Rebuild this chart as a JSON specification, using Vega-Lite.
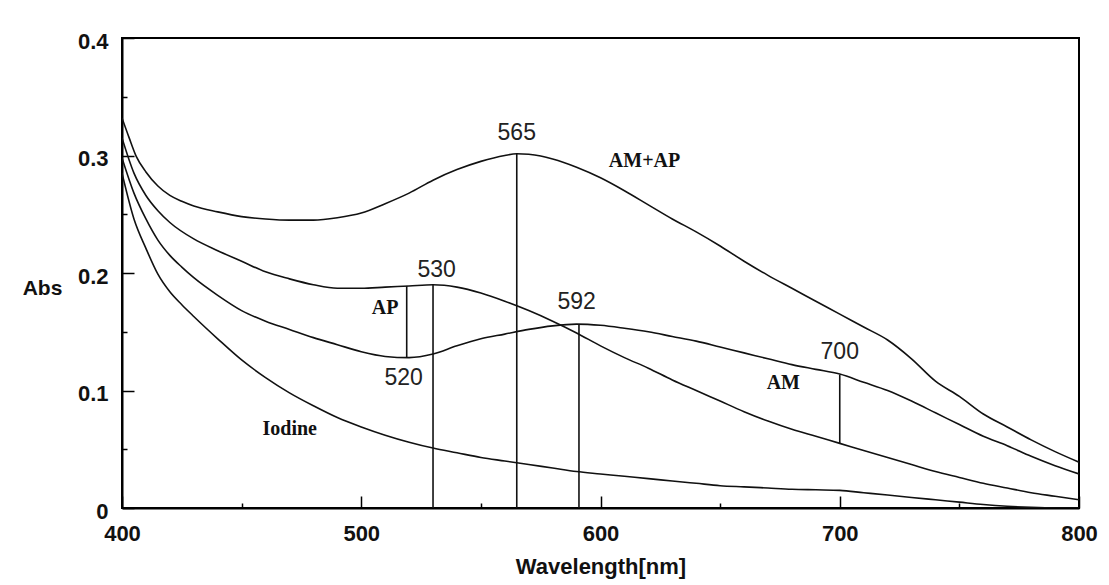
{
  "$schema": "https://vega.github.io/schema/vega-lite/v6.json",
  "width": 957,
  "height": 470,
  "autosize": "none",
  "padding": {"left": 122, "top": 38, "right": 30, "bottom": 77},
  "background": "white",
  "config": {
    "view": {"stroke": "black", "strokeWidth": 2},
    "axis": {"domainColor": "black", "domainWidth": 2, "tickColor": "black", "tickWidth": 1.5, "labelColor": "#111", "titleColor": "#111", "grid": false}
  },
  "datasets": {
    "curves": [
      {"s":"AM+AP","w":400,"a":0.332},{"s":"AM+AP","w":403,"a":0.315},{"s":"AM+AP","w":406,"a":0.299},{"s":"AM+AP","w":410,"a":0.286},{"s":"AM+AP","w":415,"a":0.274},{"s":"AM+AP","w":420,"a":0.266},{"s":"AM+AP","w":425,"a":0.261},{"s":"AM+AP","w":430,"a":0.257},{"s":"AM+AP","w":440,"a":0.252},{"s":"AM+AP","w":450,"a":0.248},{"s":"AM+AP","w":460,"a":0.246},{"s":"AM+AP","w":470,"a":0.245},{"s":"AM+AP","w":480,"a":0.245},{"s":"AM+AP","w":490,"a":0.247},{"s":"AM+AP","w":500,"a":0.251},{"s":"AM+AP","w":510,"a":0.259},{"s":"AM+AP","w":520,"a":0.268},{"s":"AM+AP","w":530,"a":0.279},{"s":"AM+AP","w":540,"a":0.288},{"s":"AM+AP","w":550,"a":0.295},{"s":"AM+AP","w":560,"a":0.300},{"s":"AM+AP","w":565,"a":0.3015},{"s":"AM+AP","w":570,"a":0.301},{"s":"AM+AP","w":575,"a":0.2995},{"s":"AM+AP","w":580,"a":0.297},{"s":"AM+AP","w":590,"a":0.290},{"s":"AM+AP","w":600,"a":0.281},{"s":"AM+AP","w":610,"a":0.270},{"s":"AM+AP","w":620,"a":0.258},{"s":"AM+AP","w":630,"a":0.246},{"s":"AM+AP","w":640,"a":0.235},{"s":"AM+AP","w":650,"a":0.223},{"s":"AM+AP","w":660,"a":0.210},{"s":"AM+AP","w":670,"a":0.198},{"s":"AM+AP","w":680,"a":0.187},{"s":"AM+AP","w":690,"a":0.176},{"s":"AM+AP","w":700,"a":0.165},{"s":"AM+AP","w":710,"a":0.154},{"s":"AM+AP","w":720,"a":0.143},{"s":"AM+AP","w":730,"a":0.127},{"s":"AM+AP","w":740,"a":0.108},{"s":"AM+AP","w":750,"a":0.095},{"s":"AM+AP","w":760,"a":0.080},{"s":"AM+AP","w":770,"a":0.069},{"s":"AM+AP","w":780,"a":0.058},{"s":"AM+AP","w":790,"a":0.048},{"s":"AM+AP","w":800,"a":0.039},
      {"s":"AP","w":400,"a":0.315},{"s":"AP","w":405,"a":0.285},{"s":"AP","w":410,"a":0.266},{"s":"AP","w":415,"a":0.253},{"s":"AP","w":420,"a":0.243},{"s":"AP","w":430,"a":0.229},{"s":"AP","w":440,"a":0.219},{"s":"AP","w":450,"a":0.210},{"s":"AP","w":460,"a":0.201},{"s":"AP","w":470,"a":0.195},{"s":"AP","w":480,"a":0.190},{"s":"AP","w":490,"a":0.187},{"s":"AP","w":500,"a":0.187},{"s":"AP","w":510,"a":0.188},{"s":"AP","w":520,"a":0.189},{"s":"AP","w":530,"a":0.190},{"s":"AP","w":540,"a":0.188},{"s":"AP","w":550,"a":0.183},{"s":"AP","w":560,"a":0.176},{"s":"AP","w":570,"a":0.168},{"s":"AP","w":580,"a":0.159},{"s":"AP","w":590,"a":0.149},{"s":"AP","w":600,"a":0.138},{"s":"AP","w":610,"a":0.128},{"s":"AP","w":620,"a":0.119},{"s":"AP","w":630,"a":0.109},{"s":"AP","w":640,"a":0.100},{"s":"AP","w":650,"a":0.091},{"s":"AP","w":660,"a":0.082},{"s":"AP","w":670,"a":0.074},{"s":"AP","w":680,"a":0.067},{"s":"AP","w":690,"a":0.061},{"s":"AP","w":700,"a":0.055},{"s":"AP","w":710,"a":0.049},{"s":"AP","w":720,"a":0.043},{"s":"AP","w":730,"a":0.037},{"s":"AP","w":740,"a":0.031},{"s":"AP","w":750,"a":0.026},{"s":"AP","w":760,"a":0.021},{"s":"AP","w":770,"a":0.017},{"s":"AP","w":780,"a":0.013},{"s":"AP","w":790,"a":0.010},{"s":"AP","w":800,"a":0.007},
      {"s":"AM","w":400,"a":0.298},{"s":"AM","w":405,"a":0.268},{"s":"AM","w":410,"a":0.246},{"s":"AM","w":415,"a":0.228},{"s":"AM","w":420,"a":0.215},{"s":"AM","w":425,"a":0.205},{"s":"AM","w":430,"a":0.196},{"s":"AM","w":440,"a":0.181},{"s":"AM","w":450,"a":0.168},{"s":"AM","w":460,"a":0.159},{"s":"AM","w":470,"a":0.152},{"s":"AM","w":480,"a":0.145},{"s":"AM","w":490,"a":0.139},{"s":"AM","w":500,"a":0.133},{"s":"AM","w":510,"a":0.129},{"s":"AM","w":520,"a":0.128},{"s":"AM","w":530,"a":0.131},{"s":"AM","w":540,"a":0.138},{"s":"AM","w":550,"a":0.144},{"s":"AM","w":560,"a":0.148},{"s":"AM","w":570,"a":0.152},{"s":"AM","w":580,"a":0.155},{"s":"AM","w":590,"a":0.1565},{"s":"AM","w":600,"a":0.1555},{"s":"AM","w":610,"a":0.153},{"s":"AM","w":620,"a":0.150},{"s":"AM","w":630,"a":0.146},{"s":"AM","w":640,"a":0.142},{"s":"AM","w":650,"a":0.137},{"s":"AM","w":660,"a":0.132},{"s":"AM","w":670,"a":0.127},{"s":"AM","w":680,"a":0.122},{"s":"AM","w":690,"a":0.118},{"s":"AM","w":700,"a":0.114},{"s":"AM","w":710,"a":0.107},{"s":"AM","w":720,"a":0.100},{"s":"AM","w":730,"a":0.091},{"s":"AM","w":740,"a":0.081},{"s":"AM","w":750,"a":0.071},{"s":"AM","w":760,"a":0.061},{"s":"AM","w":770,"a":0.053},{"s":"AM","w":780,"a":0.044},{"s":"AM","w":790,"a":0.036},{"s":"AM","w":800,"a":0.029},
      {"s":"Iodine","w":400,"a":0.285},{"s":"Iodine","w":405,"a":0.246},{"s":"Iodine","w":410,"a":0.221},{"s":"Iodine","w":415,"a":0.199},{"s":"Iodine","w":420,"a":0.184},{"s":"Iodine","w":425,"a":0.173},{"s":"Iodine","w":430,"a":0.163},{"s":"Iodine","w":440,"a":0.144},{"s":"Iodine","w":450,"a":0.126},{"s":"Iodine","w":460,"a":0.111},{"s":"Iodine","w":470,"a":0.098},{"s":"Iodine","w":480,"a":0.087},{"s":"Iodine","w":490,"a":0.077},{"s":"Iodine","w":500,"a":0.069},{"s":"Iodine","w":510,"a":0.062},{"s":"Iodine","w":520,"a":0.056},{"s":"Iodine","w":530,"a":0.051},{"s":"Iodine","w":540,"a":0.047},{"s":"Iodine","w":550,"a":0.043},{"s":"Iodine","w":560,"a":0.040},{"s":"Iodine","w":570,"a":0.037},{"s":"Iodine","w":580,"a":0.034},{"s":"Iodine","w":590,"a":0.031},{"s":"Iodine","w":600,"a":0.029},{"s":"Iodine","w":610,"a":0.027},{"s":"Iodine","w":620,"a":0.025},{"s":"Iodine","w":630,"a":0.023},{"s":"Iodine","w":640,"a":0.021},{"s":"Iodine","w":650,"a":0.019},{"s":"Iodine","w":660,"a":0.018},{"s":"Iodine","w":670,"a":0.017},{"s":"Iodine","w":680,"a":0.016},{"s":"Iodine","w":690,"a":0.0155},{"s":"Iodine","w":700,"a":0.015},{"s":"Iodine","w":710,"a":0.013},{"s":"Iodine","w":720,"a":0.011},{"s":"Iodine","w":730,"a":0.009},{"s":"Iodine","w":740,"a":0.007},{"s":"Iodine","w":750,"a":0.005},{"s":"Iodine","w":760,"a":0.003},{"s":"Iodine","w":770,"a":0.0015},{"s":"Iodine","w":780,"a":0.0005},{"s":"Iodine","w":790,"a":0},{"s":"Iodine","w":800,"a":0}
    ],
    "markers": [
      {"w":565,"lo":0,"hi":0.3015},
      {"w":530,"lo":0,"hi":0.190},
      {"w":591,"lo":0,"hi":0.1566},
      {"w":519,"lo":0.1283,"hi":0.189},
      {"w":700,"lo":0.0552,"hi":0.1135}
    ],
    "numbers": [
      {"w":565,"a":0.319,"t":"565"},
      {"w":531.5,"a":0.2026,"t":"530"},
      {"w":590,"a":0.1756,"t":"592"},
      {"w":517.7,"a":0.1107,"t":"520"},
      {"w":700,"a":0.133,"t":"700"}
    ],
    "names": [
      {"w":618.4,"a":0.295,"t":"AM+AP"},
      {"w":510,"a":0.170,"t":"AP"},
      {"w":676.4,"a":0.106,"t":"AM"},
      {"w":470.1,"a":0.0674,"t":"Iodine"}
    ]
  },
  "layer": [
    {
      "data": {"name": "curves"},
      "mark": {"type": "line", "color": "#111", "strokeWidth": 1.6, "interpolate": "monotone", "clip": true},
      "encoding": {
        "x": {
          "field": "w", "type": "quantitative",
          "scale": {"domain": [400, 800], "nice": false, "zero": false},
          "axis": {
            "values": [400, 450, 500, 550, 600, 650, 700, 750, 800],
            "labelExpr": "datum.value % 100 == 0 ? datum.label : ''",
            "labelFont": "Liberation Sans", "labelFontSize": 22, "labelFontWeight": "bold",
            "labelFlush": false, "labelOverlap": false,
            "tickSize": {"condition": {"test": "datum.value % 100 == 0", "value": -12}, "value": -5},
            "labelPadding": {"condition": {"test": "datum.value % 100 == 0", "value": 27}, "value": 20},
            "title": "Wavelength[nm]", "titleFont": "Liberation Sans", "titleFontSize": 22, "titleFontWeight": "bold",
            "titlePadding": 12
          }
        },
        "y": {
          "field": "a", "type": "quantitative",
          "scale": {"domain": [0, 0.4], "nice": false},
          "axis": {
            "values": [0, 0.05, 0.1, 0.15, 0.2, 0.25, 0.3, 0.35, 0.4],
            "labelExpr": "datum.value == 0 ? '0' : (abs(datum.value * 10 - round(datum.value * 10)) < 0.001 ? format(datum.value, '.1f') : '')",
            "labelFont": "Liberation Sans", "labelFontSize": 22, "labelFontWeight": "bold",
            "labelFlush": false, "labelOverlap": false, "labelOffset": 3,
            "tickSize": {"condition": {"test": "abs(datum.value * 10 - round(datum.value * 10)) < 0.001", "value": -12}, "value": -5},
            "labelPadding": {"condition": {"test": "abs(datum.value * 10 - round(datum.value * 10)) < 0.001", "value": 26}, "value": 19},
            "title": "Abs", "titleAngle": 0, "titleX": -80, "titleY": 250, "titleAlign": "center", "titleBaseline": "middle",
            "titleFont": "Liberation Sans", "titleFontSize": 21, "titleFontWeight": "bold"
          }
        },
        "detail": {"field": "s"}
      }
    },
    {
      "data": {"name": "markers"},
      "mark": {"type": "rule", "color": "#111", "strokeWidth": 1.6},
      "encoding": {
        "x": {"field": "w", "type": "quantitative"},
        "y": {"field": "lo", "type": "quantitative"},
        "y2": {"field": "hi"}
      }
    },
    {
      "data": {"name": "numbers"},
      "mark": {"type": "text", "font": "Liberation Sans", "fontSize": 23, "color": "#222", "align": "center", "baseline": "middle"},
      "encoding": {
        "x": {"field": "w", "type": "quantitative"},
        "y": {"field": "a", "type": "quantitative"},
        "text": {"field": "t"}
      }
    },
    {
      "data": {"name": "names"},
      "mark": {"type": "text", "font": "Liberation Serif", "fontSize": 20, "fontWeight": "bold", "color": "#111", "align": "center", "baseline": "middle"},
      "encoding": {
        "x": {"field": "w", "type": "quantitative"},
        "y": {"field": "a", "type": "quantitative"},
        "text": {"field": "t"}
      }
    }
  ]
}
